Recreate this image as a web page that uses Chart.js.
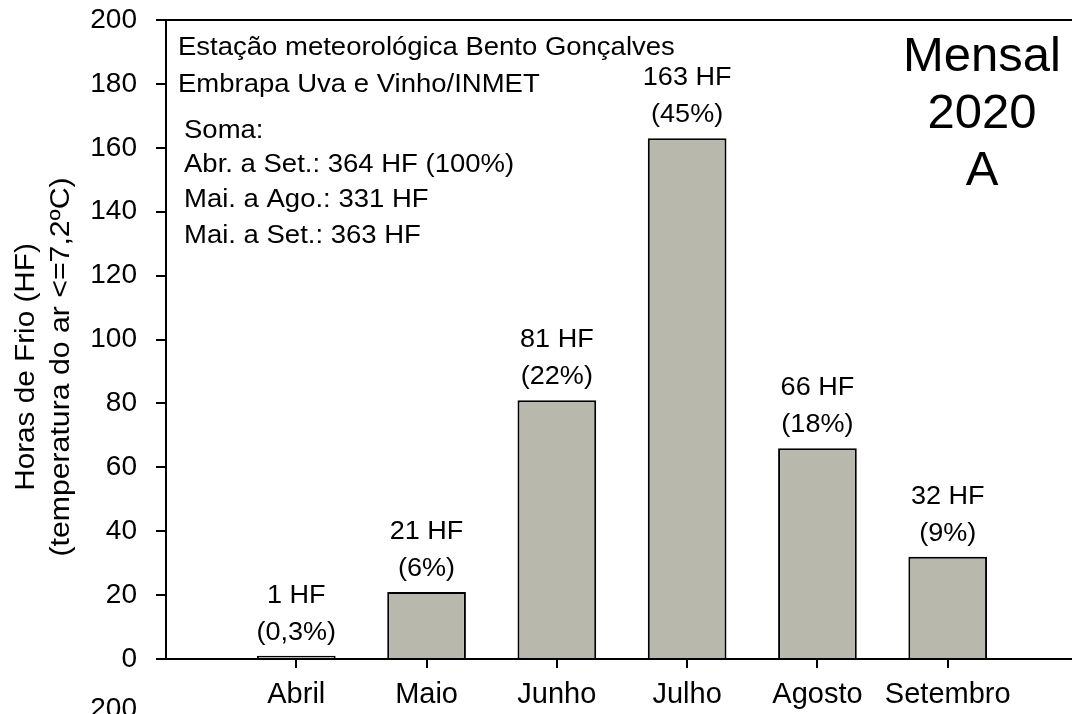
<!DOCTYPE html>
<html>
<head>
<meta charset="utf-8">
<script src="https://cdn.jsdelivr.net/npm/chart.js@4.4.1/dist/chart.umd.min.js"></script>
<style>
  html, body { margin: 0; padding: 0; background: #fff; overflow: hidden; }
  #wrap { width: 1080px; height: 714px; }
</style>
</head>
<body>
<div id="wrap"><canvas id="hfChart" width="1080" height="714"></canvas></div>
<script>
// dados mensais (Horas de Frio, Bento Gonçalves 2020)
var months = ["Abril", "Maio", "Junho", "Julho", "Agosto", "Setembro"];
var horasFrio = [1, 21, 81, 163, 66, 32];
var hfLabels = ["1 HF", "21 HF", "81 HF", "163 HF", "66 HF", "32 HF"];
var pctLabels = ["(0,3%)", "(6%)", "(22%)", "(45%)", "(18%)", "(9%)"];
var yTitle = ["Horas de Frio (HF)", "(temperatura do ar <=7,2ºC)"];
var headerLines = ["Estação meteorológica Bento Gonçalves", "Embrapa Uva e Vinho/INMET"];
var somaLines = ["Soma:", "Abr. a Set.: 364 HF (100%)", "Mai. a Ago.: 331 HF", "Mai. a Set.: 363 HF"];
var panelLines = ["Mensal", "2020", "A"];

var FONT = "'Liberation Sans', Arial, sans-serif";

// empty slots at both ends so the axis runs one category past the bars
var labels = [""].concat(months, [""]);
var values = [null].concat(horasFrio, [null]);

// text in the original is a bit wider than plain Arial
function wideText(ctx, text, x, y, sx) {
  ctx.save();
  ctx.translate(x, y);
  ctx.scale(sx, 1);
  ctx.fillText(text, 0, 0);
  ctx.restore();
}

var textPlugin = {
  id: "textPlugin",
  afterDraw: function (chart) {
    var ctx = chart.ctx;
    var area = chart.chartArea;
    ctx.save();
    ctx.fillStyle = "#000";

    // top frame line
    ctx.strokeStyle = "#000";
    ctx.lineWidth = 2;
    ctx.beginPath();
    ctx.moveTo(area.left - 10, area.top);
    ctx.lineTo(area.right, area.top);
    ctx.stroke();

    // value labels above bars
    var meta = chart.getDatasetMeta(0);
    ctx.font = "26px " + FONT;
    ctx.textAlign = "center";
    ctx.textBaseline = "middle";
    meta.data.forEach(function (bar, i) {
      var k = i - 1;
      if (k < 0 || k >= horasFrio.length) return;
      wideText(ctx, hfLabels[k], bar.x, bar.y - 60, 1.04);
      wideText(ctx, pctLabels[k], bar.x, bar.y - 23, 1.04);
    });

    // y axis title
    ctx.save();
    ctx.translate(0, 367);
    ctx.rotate(-Math.PI / 2);
    ctx.font = "27px " + FONT;
    wideText(ctx, yTitle[0], 0, 27, 1.1);
    wideText(ctx, yTitle[1], 0, 62, 1.12);
    ctx.restore();

    // station text
    ctx.textAlign = "left";
    ctx.font = "25px " + FONT;
    wideText(ctx, headerLines[0], 178, 48, 1.1);
    wideText(ctx, headerLines[1], 178, 85, 1.1);
    var somaY = [131, 165, 200, 236];
    somaLines.forEach(function (t, i) {
      wideText(ctx, t, 184, somaY[i], 1.1);
    });

    // panel label
    ctx.textAlign = "center";
    ctx.font = "49px " + FONT;
    panelLines.forEach(function (t, i) {
      ctx.fillText(t, 982, 57 + i * 57);
    });

    // top tick of the next panel, cut by the page edge
    ctx.textAlign = "right";
    ctx.textBaseline = "alphabetic";
    ctx.font = "28px " + FONT;
    ctx.fillText("200", 137, 717);
    ctx.restore();
  }
};

var chart = new Chart(document.getElementById("hfChart"), {
  type: "bar",
  data: {
    labels: labels,
    datasets: [
      {
        data: values,
        backgroundColor: "#b8b8ac",
        borderColor: "#000",
        borderWidth: 2,
        categoryPercentage: 1,
        barPercentage: 0.604
      }
    ]
  },
  options: {
    responsive: false,
    devicePixelRatio: 1,
    animation: false,
    layout: { padding: { top: 20, right: 2, bottom: 0, left: 0 } },
    plugins: {
      legend: { display: false },
      tooltip: { enabled: false }
    },
    scales: {
      x: {
        offset: false,
        grid: {
          offset: false,
          drawOnChartArea: false,
          drawTicks: true,
          tickLength: 9,
          lineWidth: 2,
          color: function (c) {
            return c.index > 0 && c.index < labels.length - 1 ? "#000" : "rgba(0,0,0,0)";
          }
        },
        border: { display: true, color: "#000", width: 2 },
        ticks: {
          autoSkip: false,
          maxRotation: 0,
          padding: 10,
          color: "#000",
          font: { family: FONT, size: 29 }
        },
        afterFit: function (scale) {
          scale.height = 55;
          scale.paddingLeft = 0;
          scale.paddingRight = 0;
        }
      },
      y: {
        min: 0,
        max: 200,
        grid: {
          drawOnChartArea: false,
          drawTicks: true,
          tickLength: 10,
          lineWidth: 2,
          color: "#000"
        },
        border: { display: true, color: "#000", width: 2 },
        ticks: {
          stepSize: 20,
          padding: 19,
          color: "#000",
          font: { family: FONT, size: 28 }
        },
        afterFit: function (scale) {
          scale.width = 166;
          scale.paddingTop = 0;
          scale.paddingBottom = 0;
        }
      }
    }
  },
  plugins: [textPlugin]
});
</script>
</body>
</html>
